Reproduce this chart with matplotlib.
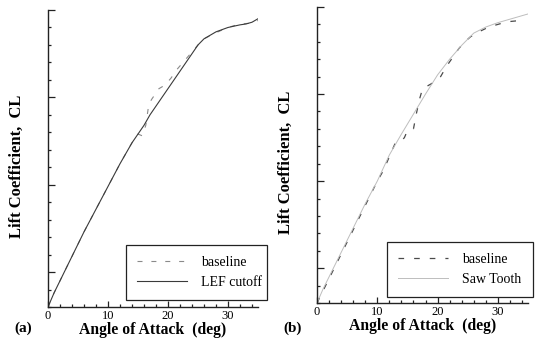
import matplotlib
matplotlib.use('Agg')
import matplotlib.pyplot as plt
from matplotlib.ticker import MultipleLocator, FixedLocator

plt.rcParams['font.family'] = ['Liberation Serif', 'DejaVu Serif']

# (a) LEF cutoff vs baseline
alpha_a_lef = [0, 1, 2, 4, 6, 8, 10, 12, 13, 14, 15, 16, 17, 18, 20, 22, 24, 25, 26, 28, 30, 32, 33, 34, 35]
cl_a_lef = [0, 0.08, 0.15, 0.29, 0.43, 0.56, 0.69, 0.82, 0.88, 0.94, 0.99, 1.04, 1.10, 1.15, 1.25, 1.35,
            1.45, 1.50, 1.535, 1.575, 1.60, 1.615, 1.62, 1.63, 1.65]
alpha_a_base = [0, 1, 2, 4, 6, 8, 10, 12, 13, 14, 15, 15.7, 16.3, 16.8, 17.3, 18.5, 19.5, 20.5, 21.5,
                22.5, 24, 25, 26, 28, 30, 32, 34, 35]
cl_a_base = [0, 0.08, 0.15, 0.29, 0.43, 0.56, 0.69, 0.82, 0.88, 0.94, 0.99, 0.98, 1.04, 1.16, 1.19,
             1.25, 1.27, 1.31, 1.36, 1.40, 1.46, 1.50, 1.535, 1.57, 1.60, 1.62, 1.625, 1.64]

# (b) Saw Tooth vs baseline
alpha_b_saw = [0, 1, 2, 4, 6, 8, 10, 12, 14, 16, 18, 20, 22, 24, 26, 28, 30, 32, 34, 35]
cl_b_saw = [0, 0.08, 0.15, 0.29, 0.43, 0.57, 0.70, 0.85, 0.97, 1.085, 1.20, 1.31, 1.40, 1.48,
            1.55, 1.585, 1.61, 1.63, 1.65, 1.66]
alpha_b_base = [0, 2, 4, 6, 8, 10, 11, 12, 13, 14, 14.5, 15, 16, 16.5, 17, 17.5, 18.5, 19.5, 20.5,
                21.5, 22.5, 23.5, 24.5, 25.5, 27, 28.5, 30, 31.5, 33, 34.5]
cl_b_base = [0, 0.14, 0.28, 0.42, 0.56, 0.70, 0.76, 0.84, 0.92, 0.93, 0.95, 0.99, 1.00, 1.09, 1.17,
             1.23, 1.25, 1.27, 1.30, 1.36, 1.41, 1.46, 1.50, 1.53, 1.56, 1.585, 1.60, 1.615, 1.62, 1.62]

fig = plt.figure(figsize=(5.35, 3.43), dpi=100)
W, H = 535, 343
ax1 = fig.add_axes([48 / W, 1 - 307 / H, 210 / W, 297 / H])
ax2 = fig.add_axes([317 / W, 1 - 303 / H, 211 / W, 296 / H])

ax1.plot(alpha_a_base, cl_a_base, color='#8a8a8a', lw=0.8, ls=(0, (4.5, 8)), label='baseline')
ax1.plot(alpha_a_lef, cl_a_lef, color='#3a3a3a', lw=0.8, label='LEF cutoff')
ax2.plot(alpha_b_base, cl_b_base, color='#4a4a4a', lw=0.9, ls=(0, (4.5, 8)), label='baseline')
ax2.plot(alpha_b_saw, cl_b_saw, color='#bdbdbd', lw=0.7, label='Saw Tooth')

legend_boxes = [(ax1, 126, 300, 141, 58), (ax2, 387, 297, 146, 59)]
for ax, lx, ly, lw_, lh in legend_boxes:
    ax.set_xlim(0, 35)
    ax.set_ylim(0, 1.7)
    ax.spines['top'].set_visible(False)
    ax.spines['right'].set_visible(False)
    for s in ('left', 'bottom'):
        ax.spines[s].set_linewidth(1.0)
        ax.spines[s].set_color('#222222')
    ax.xaxis.set_major_locator(FixedLocator([0, 10, 20, 30]))
    ax.xaxis.set_minor_locator(MultipleLocator(2))
    ax.yaxis.set_major_locator(FixedLocator([0.2, 0.7, 1.2, 1.7]))
    ax.yaxis.set_minor_locator(MultipleLocator(0.1))
    ax.tick_params(which='both', direction='in', color='#222222', width=0.9)
    ax.tick_params(which='major', length=4, labelsize=9, pad=2)
    ax.tick_params(which='minor', length=2.5)
    ax.tick_params(axis='y', which='major', length=5, labelleft=False)
    ax.set_xlabel('Angle of Attack  (deg)', fontsize=11.3, fontweight='bold', labelpad=0)
    ax.set_ylabel('Lift Coefficient,  CL', fontsize=12, fontweight='bold')
    ax.yaxis.set_label_coords(-0.11, 0.475)
    leg = ax.legend(loc='lower left', bbox_to_anchor=(lx / W, 1 - ly / H, lw_ / W, lh / H),
                    bbox_transform=fig.transFigure, mode='expand', borderaxespad=0,
                    fancybox=False, framealpha=1, edgecolor='#222222', fontsize=10,
                    handlelength=3.6, handletextpad=1.0, borderpad=0.8, labelspacing=0.5)
    leg.get_frame().set_linewidth(0.9)

fig.text(23 / W, 1 - 328 / H, '(a)', fontsize=11, fontweight='bold', ha='center', va='center')
fig.text(293 / W, 1 - 328 / H, '(b)', fontsize=11, fontweight='bold', ha='center', va='center')

fig.savefig('out.png', dpi=100)
